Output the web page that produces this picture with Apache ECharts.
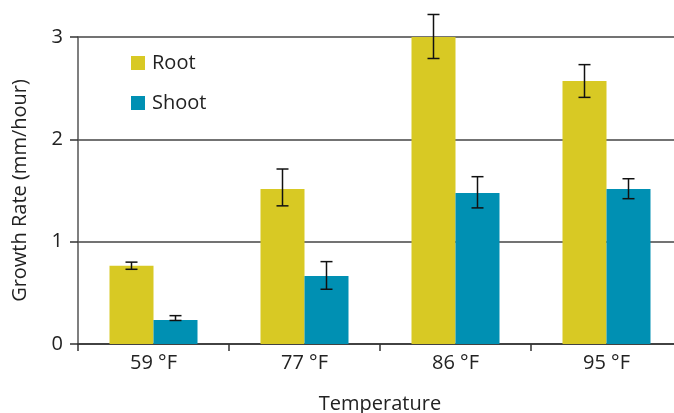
<!DOCTYPE html>
<html lang="en">
<head>
<meta charset="UTF-8">
<title>Growth Rate</title>
<script src="https://cdn.jsdelivr.net/npm/echarts@6/dist/echarts.min.js"></script>
<style>
  html, body { margin: 0; padding: 0; background: #fff; }
  #chart { width: 674px; height: 413px; }
</style>
</head>
<body>
<div id="chart"></div>
<script>
  var categories = ['59 °F', '77 °F', '86 °F', '95 °F'];
  var rootValues = [0.765, 1.515, 3.0, 2.57];
  var rootLow = [0.73, 1.35, 2.79, 2.41];
  var rootHigh = [0.80, 1.71, 3.22, 2.73];
  var shootValues = [0.235, 0.665, 1.476, 1.515];
  var shootLow = [0.23, 0.535, 1.33, 1.42];
  var shootHigh = [0.277, 0.805, 1.635, 1.615];
  var yTicks = [0, 1, 2, 3];

  var font = '"Open Sans", Lato, sans-serif';
  var BAR_W = 44;

  // error bar data: [category index, low, high, offset side]
  var errData = [];
  for (var i = 0; i < categories.length; i++) {
    errData.push([i, rootLow[i], rootHigh[i], -1]);
    errData.push([i, shootLow[i], shootHigh[i], 1]);
  }

  function renderErr(params, api) {
    var c = api.value(0);
    var lo = api.coord([c, api.value(1)]);
    var hi = api.coord([c, api.value(2)]);
    var x = lo[0] + api.value(3) * BAR_W / 2;
    var cap = 6;
    var st = { stroke: '#111', lineWidth: 1.5 };
    return {
      type: 'group',
      children: [
        { type: 'line', shape: { x1: x, y1: hi[1], x2: x, y2: lo[1] }, style: st },
        { type: 'line', shape: { x1: x - cap, y1: hi[1], x2: x + cap, y2: hi[1] }, style: st },
        { type: 'line', shape: { x1: x - cap, y1: lo[1], x2: x + cap, y2: lo[1] }, style: st }
      ]
    };
  }

  var chart = echarts.init(document.getElementById('chart'));
  chart.setOption({
    animation: false,
    textStyle: { fontFamily: font },
    grid: { left: 78, top: 37, right: -8, bottom: 69, outerBoundsMode: 'none', containLabel: false },
    legend: {
      orient: 'vertical',
      left: 131,
      top: 53,
      padding: 0,
      itemWidth: 14,
      itemHeight: 14,
      itemGap: 20,
      icon: 'rect',
      textStyle: { fontSize: 20, color: '#222', fontFamily: font, padding: [0, 0, 0, 2] },
      data: ['Root', 'Shoot']
    },
    xAxis: {
      type: 'category',
      data: categories,
      name: 'Temperature',
      nameLocation: 'middle',
      nameGap: 50,
      nameTextStyle: { fontSize: 20, color: '#222', fontFamily: font },
      axisLine: { lineStyle: { color: '#333', width: 1.5 } },
      axisTick: { show: true, length: 7, lineStyle: { color: '#333', width: 1.5 } },
      axisLabel: { fontSize: 20, color: '#222', margin: 9, fontFamily: font }
    },
    yAxis: {
      type: 'value',
      min: 0,
      max: 3,
      interval: 1,
      name: 'Growth Rate (mm/hour)',
      nameLocation: 'middle',
      nameGap: 48,
      nameTextStyle: { fontSize: 20, color: '#222', fontFamily: font },
      axisLine: { show: true, lineStyle: { color: '#555', width: 1.5 } },
      axisTick: { show: true, length: 8, lineStyle: { color: '#333', width: 1.5 } },
      axisLabel: {
        fontSize: 20, color: '#222', margin: 15, fontFamily: font,
        formatter: function (v) { return yTicks.indexOf(v) >= 0 ? String(v) : ''; }
      },
      splitLine: { lineStyle: { color: '#444', width: 1.5 } }
    },
    series: [
      {
        name: 'Root',
        type: 'bar',
        data: rootValues,
        barWidth: BAR_W,
        barGap: '0%',
        itemStyle: { color: '#D8C924' }
      },
      {
        name: 'Shoot',
        type: 'bar',
        data: shootValues,
        barWidth: BAR_W,
        barGap: '0%',
        itemStyle: { color: '#0090B3' }
      },
      {
        name: 'err',
        type: 'custom',
        data: errData,
        renderItem: renderErr,
        clip: false,
        z: 10,
        encode: { x: 0, y: [1, 2] }
      }
    ]
  });
</script>
</body>
</html>
